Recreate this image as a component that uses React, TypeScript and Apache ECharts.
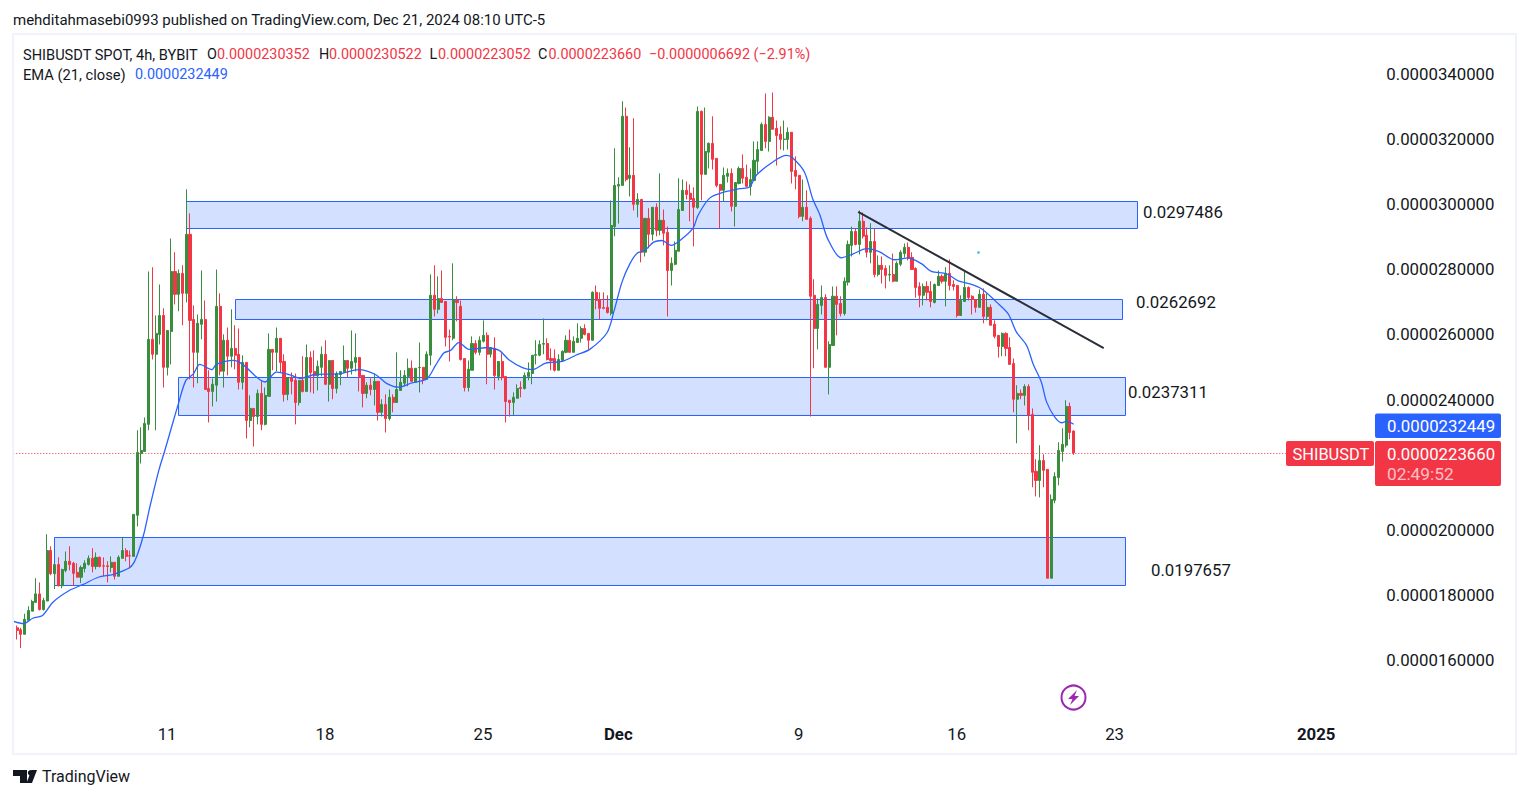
import React, { useEffect, useRef } from "react";
import * as echarts from "echarts";

// Prices are in millionths (1e-6 USDT)
const opens = [
16.82,17.00,16.94,16.80,17.23,17.51,17.78,18.04,17.56,17.82,
19.37,18.66,18.94,18.29,18.76,19.04,18.98,18.70,18.55,18.82,
18.94,19.13,18.88,19.16,18.90,18.90,18.85,19.01,18.58,19.13,
19.37,19.21,19.19,20.45,22.35,22.41,23.24,25.85,25.39,26.00,
26.58,24.99,26.09,27.93,27.23,27.87,27.26,29.07,26.46,25.45,
26.31,26.46,24.34,24.25,24.44,26.86,24.87,25.82,25.33,25.57,
25.39,24.53,25.14,23.36,23.73,23.48,24.19,23.24,24.10,25.54,
25.45,25.88,25.17,24.16,24.67,24.59,23.91,24.59,24.25,25.29,
24.86,24.73,24.99,25.39,24.47,25.20,24.34,24.77,24.83,25.20,
24.96,25.14,25.29,24.74,24.19,24.44,24.31,24.56,23.61,23.85,
23.42,24.07,23.91,24.28,24.50,24.71,24.96,24.53,24.98,24.99,
24.62,25.36,27.20,26.77,27.10,27.01,25.94,25.88,27.04,26.86,
25.26,24.37,24.90,25.72,25.45,25.79,25.97,25.39,25.57,24.71,
25.17,24.71,23.98,23.91,24.04,24.37,24.34,24.71,24.80,25.36,
25.36,25.70,25.72,25.26,25.26,24.90,25.20,25.45,25.82,25.45,
25.75,25.88,26.18,26.03,25.82,27.29,27.07,26.82,26.83,26.64,
29.31,30.55,30.57,32.69,30.79,30.88,29.99,30.14,28.52,29.56,
29.07,29.90,29.19,29.50,29.13,27.96,28.15,28.55,29.80,30.42,
30.33,30.17,29.89,32.84,30.91,31.59,31.86,31.40,30.60,30.42,
30.85,30.94,29.93,30.63,31.09,30.82,30.54,30.72,31.31,31.64,
32.44,31.92,32.66,32.32,32.14,31.98,31.98,32.20,31.03,30.88,
29.62,29.90,29.56,27.20,26.18,26.89,27.13,24.99,25.66,27.17,
26.95,26.64,27.60,28.73,29.16,28.76,29.47,29.04,28.52,28.85,
27.84,28.12,28.02,27.82,27.84,27.63,28.15,28.48,28.67,28.36,
28.02,27.47,27.20,27.47,27.32,26.98,27.50,27.78,27.63,27.87,
27.53,27.50,26.58,27.01,27.44,27.17,27.07,26.83,27.23,26.55,
26.83,26.31,25.97,25.63,26.03,25.60,25.11,24.01,24.19,24.13,
24.40,23.55,21.80,21.52,22.13,21.86,18.52,20.91,21.61,22.41,
22.60,23.79,23.0352];

const closes = [
17.23,16.92,16.80,17.26,17.53,17.81,18.04,17.56,17.84,19.37,
18.66,18.94,18.29,18.79,19.04,18.94,18.67,18.55,18.85,18.98,
19.13,18.88,19.16,18.88,18.89,18.88,19.01,18.58,19.16,19.37,
19.19,19.20,20.48,22.38,22.44,23.27,25.85,25.39,26.03,26.58,
24.99,26.12,27.93,27.23,27.87,27.26,29.07,26.43,25.45,26.34,
26.46,24.31,24.25,24.47,26.86,24.87,25.82,25.33,25.57,25.36,
24.53,25.14,23.36,23.73,23.48,24.19,23.24,24.13,25.54,25.45,
25.88,25.14,24.16,24.67,24.56,23.91,24.59,24.25,25.29,24.83,
24.73,25.02,25.39,24.47,25.20,24.34,24.80,24.86,25.20,24.96,
25.17,25.29,24.71,24.19,24.44,24.31,24.56,23.61,23.85,23.42,
24.07,23.91,24.31,24.53,24.74,24.96,24.56,24.96,24.99,24.62,
25.39,27.20,26.77,27.10,26.98,25.91,25.92,27.07,26.98,25.23,
24.37,24.93,25.72,25.45,25.82,25.97,25.39,25.60,24.74,25.17,
24.68,23.94,23.91,24.07,24.34,24.34,24.74,24.83,25.36,25.38,
25.69,25.72,25.23,25.20,24.90,25.23,25.48,25.82,25.45,25.79,
25.88,26.18,26.00,25.82,27.29,27.04,26.80,26.80,26.67,29.34,
30.57,30.60,32.69,30.75,30.88,29.99,30.14,28.52,29.56,29.07,
29.90,29.19,29.50,29.10,27.96,28.18,28.58,29.83,30.42,30.29,
30.14,29.90,32.84,30.91,31.61,31.86,31.37,30.57,30.42,30.88,
30.94,29.93,30.66,31.09,30.79,30.54,30.75,31.34,31.67,32.44,
31.92,32.66,32.29,32.10,31.98,31.99,32.20,31.00,30.85,29.62,
29.90,29.53,27.17,26.18,26.92,27.13,24.99,25.69,27.17,26.92,
26.64,27.63,28.76,29.16,28.76,29.47,29.01,28.52,28.85,27.84,
28.12,27.99,27.81,27.84,27.63,28.18,28.52,28.67,28.33,27.99,
27.44,27.20,27.47,27.29,27.01,27.53,27.78,27.63,27.87,27.50,
27.47,26.58,27.04,27.44,27.13,27.07,26.83,27.23,26.55,26.83,
26.28,25.94,25.63,26.03,25.57,25.08,24.01,24.19,24.13,24.40,
23.52,21.77,21.52,22.13,21.83,18.52,20.94,21.64,22.44,22.63,
23.79,22.99,22.366];

const highs = [
17.23,17.07,17.00,17.43,17.66,17.86,18.52,18.39,17.92,19.87,
19.50,18.94,19.16,18.81,19.34,19.50,19.02,18.98,18.91,19.07,
19.22,19.44,19.31,19.19,19.16,19.04,19.19,19.01,19.22,19.76,
19.44,19.37,20.48,23.06,23.15,23.45,27.93,28.06,26.58,27.53,
26.80,26.12,28.94,28.52,27.99,28.12,30.45,29.71,26.89,26.61,
27.96,27.04,24.90,24.65,27.99,27.26,26.00,26.21,26.77,26.28,
26.18,25.36,25.14,24.13,23.73,24.31,24.56,24.37,26.03,25.54,
26.21,25.88,25.39,24.67,24.83,24.80,24.59,25.33,25.69,25.48,
25.51,25.20,25.63,25.82,25.20,25.20,24.86,24.86,25.66,25.20,
26.12,26.03,25.29,24.74,24.53,24.65,24.80,24.56,24.01,24.16,
24.31,24.16,25.45,24.90,24.90,25.26,25.20,24.96,25.75,24.99,
25.48,27.84,28.12,27.78,27.96,27.01,26.15,28.18,27.17,27.04,
25.26,25.20,25.94,25.82,25.94,26.43,26.06,25.60,25.91,25.17,
25.42,24.71,23.98,24.22,24.47,24.56,24.83,25.14,25.36,25.82,
25.82,26.49,25.88,25.57,25.54,25.39,25.51,25.97,26.15,25.94,
26.34,26.25,26.31,26.03,27.32,27.50,27.29,27.29,27.20,30.11,
31.71,30.82,33.15,32.96,31.74,32.63,30.33,30.14,29.56,29.87,
29.90,30.02,30.94,29.83,29.31,28.36,28.85,30.79,30.75,30.69,
30.60,30.51,32.99,32.87,32.96,31.89,32.69,31.40,30.60,31.12,
31.09,31.09,30.66,31.15,31.52,31.21,31.09,31.92,31.92,32.50,
33.39,32.69,33.42,32.56,32.38,32.56,32.35,32.20,31.46,30.88,
30.75,30.42,29.62,27.69,27.10,27.50,27.23,25.79,27.47,27.47,
27.17,27.75,28.88,29.31,29.25,29.80,29.74,29.28,29.41,29.25,
28.42,28.39,28.12,28.12,28.48,28.24,28.58,28.79,28.82,28.52,
28.06,27.60,27.56,27.63,27.63,27.56,27.96,27.84,28.06,28.30,
27.66,27.50,27.20,27.96,27.47,27.20,27.07,27.38,27.41,27.26,
26.92,26.43,25.97,26.06,26.06,25.91,25.26,24.44,24.31,24.47,
24.47,23.73,22.17,22.60,22.32,21.86,21.09,21.77,22.69,23.12,
23.98,23.91,23.0522];

const lows = [
16.82,16.64,16.38,16.80,17.23,17.51,17.76,17.53,17.53,17.82,
18.61,18.19,18.27,18.21,18.70,18.76,18.29,18.55,18.37,18.70,
18.91,18.70,18.79,18.85,18.58,18.39,18.70,18.48,18.58,19.13,
19.04,18.82,19.19,20.11,22.04,22.41,23.06,25.23,23.06,25.69,
24.37,24.74,25.08,26.92,26.71,26.28,26.98,24.62,24.37,24.50,
25.85,24.31,23.30,23.79,23.94,24.74,24.37,24.74,24.99,24.93,
24.31,24.31,22.81,23.15,22.56,23.24,23.06,23.21,24.10,24.90,
24.87,24.83,23.94,23.98,24.16,23.24,23.82,24.22,24.25,24.22,
24.18,24.28,24.71,24.44,23.94,24.01,24.19,24.44,24.83,24.68,
24.77,24.86,24.25,23.76,24.04,24.13,23.82,23.36,23.48,22.99,
23.36,23.61,23.91,24.28,24.41,24.41,24.56,24.53,24.22,24.47,
24.62,25.05,26.55,26.64,26.98,25.63,25.17,25.82,26.40,25.20,
24.25,24.25,24.90,25.39,25.36,25.75,24.47,25.29,24.31,24.59,
24.59,23.30,23.48,23.52,24.04,24.07,24.31,24.59,24.47,25.08,
25.33,25.39,25.20,24.90,24.86,24.90,25.17,25.42,25.45,25.45,
25.75,25.75,25.97,25.54,25.82,26.77,26.46,26.77,26.64,26.58,
29.01,29.40,30.57,30.69,30.23,29.80,29.59,28.21,28.39,28.64,
28.88,29.01,29.04,28.73,26.55,27.50,28.12,28.55,29.80,30.14,
29.47,28.70,29.85,30.11,30.91,31.09,31.06,30.51,29.25,30.08,
30.66,29.77,29.31,30.60,30.63,30.54,30.26,30.72,30.94,31.64,
31.71,31.61,32.29,31.18,31.67,31.64,31.67,30.63,30.45,29.56,
29.47,29.53,23.48,24.96,25.54,26.61,24.99,24.16,25.66,25.97,
26.55,26.58,27.50,28.39,28.73,28.45,28.94,28.36,28.18,27.75,
27.78,27.56,27.41,27.63,27.60,27.63,28.09,28.36,28.27,27.99,
27.13,26.83,26.89,27.04,26.83,26.95,27.50,27.56,26.86,27.35,
27.35,26.52,26.58,27.01,27.04,26.61,26.67,26.83,26.34,26.43,
26.28,25.88,25.29,25.33,25.33,25.08,23.61,22.66,24.01,23.82,
23.06,21.31,21.03,21.00,21.31,18.52,18.52,20.82,21.37,22.10,
22.53,22.78,22.3052];

const emaBars = [1,3.7,6.3,8.8,11.6,16,19.6,23.6,27.6,31.9,33.4,35.6,37.3,39.7,41.3,43.1,44.9,46.9,48.9,50.6,53.8,55,59.5,62,65.7,67.9,71,74.6,77.3,81.3,87.5,92.9,97.3,100.4,103.5,107,111,113.3,115.5,117.3,119.5,122.2,126.6,130.2,132.8,136.4,139,142.6,147,150.6,154.3,158.9,160.7,162.9,165,166.9,169,171.3,173.5,176,178.3,181.8,183.1,186.2,190.2,194.2,196.8,198.6,203,206.6,208.3,211.4,213.6,215.5,217.6,221.2,224.4,227.9,231.4,235.4,239,242.5,245.2,249.2,252.3,255.4,258.5,262.5,265.6,267.8,270.5,272.2,274.4,275.8,278,279.8,281.1,283];
const emaValues = [17.20,17.13,17.30,17.38,17.79,18.15,18.33,18.55,18.64,18.84,19.07,19.83,20.70,21.83,22.44,23.16,23.87,24.59,24.79,25.08,24.92,25.08,25.20,25.08,24.69,24.54,24.84,24.76,24.65,24.77,24.79,24.92,24.77,24.49,24.38,24.51,24.64,25.05,25.43,25.51,25.75,25.54,25.59,25.51,25.22,24.98,24.92,25.12,25.17,25.36,25.54,26.05,26.69,27.61,28.17,28.49,28.58,28.83,28.88,28.73,28.88,29.26,29.65,30.18,30.37,30.47,30.52,30.88,31.29,31.49,31.41,30.98,30.16,29.67,28.93,28.35,28.47,28.63,28.53,28.29,28.35,28.17,27.93,27.86,27.64,27.55,27.40,26.99,26.63,26.07,25.66,25.10,24.54,23.93,23.46,23.29,23.33,23.2449];

const trendBars = [225.7, 291];
const trendValues = [29.76, 25.58];
const priceLineBars = [1, 339.5];
const priceLineLevel = 22.346;

const bandStarts = [47.064, 60.096, 44.936, 11.957];
const bandEnds = [299.99, 296.0, 296.8, 296.8];
const bandTops = [30.0767, 27.0706, 24.6779, 19.7699];
const bandBottoms = [29.2485, 26.4571, 23.5123, 18.2975];
const bandLabels = ["0.0297486", "0.0262692", "0.0237311", "0.0197657"];
const bandLabelX = [1143, 1136, 1128, 1151];
const bandLabelY = [212, 302, 392, 570];

const priceTicks = [16, 18, 20, 24, 26, 28, 30, 32, 34];
const timeTickBars = [41.9, 83.9, 125.9, 161.9, 209.9, 251.9, 293.9, 347.5];
const timeTickLabels = ["11", "18", "25", "Dec", "9", "16", "23", "2025"];
const boldTimeLabels = ["Dec", "2025"];

const UP = "#388E3C";
const DOWN = "#F23645";
const BLUE = "#2962FF";
const INK = "#131722";
const FONT = "Roboto, sans-serif";

function label(text: string, x: number, y: number, size: number, fill: string, extra: any = {}) {
  return {
    type: "text",
    x,
    y,
    silent: true,
    z: 20,
    style: { text, fill, font: `${extra.weight || "normal"} ${size}px ${FONT}`, textVerticalAlign: "middle", textAlign: extra.align || "left", opacity: extra.opacity ?? 1 },
  };
}

export default function App() {
  const ref = useRef<HTMLDivElement>(null);
  useEffect(() => {
    document.body.style.margin = "0";
    document.body.style.overflow = "hidden";
    document.body.style.background = "#fff";
    const chart = echarts.init(ref.current!, null, { renderer: "svg" });
    const candles = opens.map((o, i) => [i + 1, o, closes[i], lows[i], highs[i]]);
    const option: any = {
      animation: false,
      backgroundColor: "#ffffff",
      grid: { left: 14.8, top: 35, width: 1360.5, height: 687, containLabel: false },
      xAxis: {
        type: "value",
        min: 1.3989,
        max: 363.23,
        axisLine: { show: false },
        axisTick: { show: false },
        splitLine: { show: false },
        axisLabel: {
          customValues: timeTickBars,
          margin: 3,
          hideOverlap: false,
          color: INK,
          fontFamily: FONT,
          fontSize: 16.8,
          formatter: (v: number) => {
            const t = timeTickLabels[timeTickBars.indexOf(v)] ?? "";
            return boldTimeLabels.includes(t) ? `{b|${t}}` : t;
          },
          rich: { b: { fontWeight: "bold", fontSize: 16.8, fontFamily: FONT, color: INK } },
        },
      },
      yAxis: {
        type: "value",
        position: "right",
        min: 14.11,
        max: 35.184,
        axisLine: { show: false },
        axisTick: { show: false },
        splitLine: { show: false },
        axisLabel: {
          customValues: priceTicks,
          margin: 11,
          color: INK,
          fontFamily: FONT,
          fontSize: 16.8,
          formatter: (v: number) => (v * 1e-6).toFixed(10),
        },
      },
      series: [
        {
          type: "line",
          name: "levels",
          z: 1,
          symbol: "none",
          silent: true,
          data: priceLineBars.map((b) => [b, priceLineLevel]),
          lineStyle: { color: DOWN, width: 1, type: [1, 2] },
          markArea: {
            silent: true,
            label: { show: false },
            itemStyle: { color: "rgba(41,98,255,0.2)", borderColor: BLUE, borderWidth: 1 },
            data: bandStarts.map((s, i) => [
              { xAxis: s, yAxis: bandTops[i] },
              { xAxis: bandEnds[i], yAxis: bandBottoms[i] },
            ]),
          },
        },
        {
          type: "candlestick",
          name: "SHIBUSDT",
          z: 3,
          barWidth: 2.6,
          silent: true,
          large: false,
          progressive: 0,
          encode: { x: 0, y: [1, 2, 3, 4] },
          data: candles,
          itemStyle: { color: UP, color0: DOWN, borderColor: UP, borderColor0: DOWN, borderWidth: 1 },
        },
        {
          type: "line",
          name: "EMA (21, close)",
          z: 4,
          symbol: "none",
          silent: true,
          smooth: 0.3,
          data: emaBars.map((b, i) => [b, emaValues[i]]),
          lineStyle: { color: BLUE, width: 1.3 },
        },
        {
          type: "line",
          name: "trend",
          z: 5,
          symbol: "none",
          silent: true,
          data: trendBars.map((b, i) => [b, trendValues[i]]),
          lineStyle: { color: "#2a2e39", width: 2 },
        },
      ],
      graphic: [
        { type: "rect", silent: true, z: 0, shape: { x: 13, y: 34, width: 1503, height: 720 }, style: { fill: "none", stroke: "#F0F3FA", lineWidth: 2 } },
        label("mehditahmasebi0993 published on TradingView.com, Dec 21, 2024 08:10 UTC-5", 13, 19.5, 15, INK),
        label("SHIBUSDT SPOT, 4h, BYBIT", 23, 54.5, 14.6, INK),
        label("O", 207, 54.5, 14.4, INK),
        label("0.0000230352", 217, 54.5, 14.4, DOWN),
        label("H", 319, 54.5, 14.4, INK),
        label("0.0000230522", 329, 54.5, 14.4, DOWN),
        label("L", 429.5, 54.5, 14.4, INK),
        label("0.0000223052", 438, 54.5, 14.4, DOWN),
        label("C", 538, 54.5, 14.4, INK),
        label("0.0000223660", 548.5, 54.5, 14.4, DOWN),
        label("\u22120.0000006692 (\u22122.91%)", 649, 54.5, 14.4, DOWN),
        label("EMA (21, close)", 23, 74.5, 14.7, INK),
        label("0.0000232449", 135, 74.5, 14.4, BLUE),
        ...bandLabels.map((t, i) => label(t, bandLabelX[i], bandLabelY[i], 16.8, INK)),
        { type: "circle", silent: true, z: 10, shape: { cx: 978.5, cy: 252.5, r: 1.3 }, style: { fill: "#26C6DA" } },
        { type: "rect", silent: true, z: 15, shape: { x: 1375, y: 413.5, width: 126, height: 24.5, r: 2 }, style: { fill: BLUE } },
        label("0.0000232449", 1387, 426, 16.8, "#ffffff"),
        { type: "rect", silent: true, z: 15, shape: { x: 1375, y: 441, width: 126, height: 45, r: 2 }, style: { fill: DOWN } },
        label("0.0000223660", 1387, 454, 16.8, "#ffffff"),
        label("02:49:52", 1387, 474, 17.3, "#ffffff", { opacity: 0.7 }),
        { type: "rect", silent: true, z: 15, shape: { x: 1286, y: 441, width: 88, height: 25, r: 2 }, style: { fill: DOWN } },
        label("SHIBUSDT", 1292.5, 454, 16.4, "#ffffff"),
        { type: "circle", silent: true, z: 10, shape: { cx: 1073.5, cy: 697.5, r: 12 }, style: { fill: "#fff", stroke: "#9C27B0", lineWidth: 2 } },
        { type: "polygon", silent: true, z: 11, shape: { points: [[1077, 690], [1068, 699], [1072.5, 699], [1070, 705], [1079, 696], [1074.5, 696]] }, style: { fill: "#9C27B0" } },
        { type: "polygon", silent: true, z: 10, shape: { points: [[13, 770], [27, 770], [27, 783], [20, 783], [20, 776], [13, 776]] }, style: { fill: INK } },
        { type: "circle", silent: true, z: 10, shape: { cx: 30.5, cy: 772.8, r: 2.7 }, style: { fill: INK } },
        { type: "polygon", silent: true, z: 10, shape: { points: [[32, 783], [37, 770], [31.5, 770], [26.5, 783]] }, style: { fill: INK } },
        label("TradingView", 42, 776.5, 16, INK),
      ],
    };
    chart.setOption(option);
    return () => chart.dispose();
  }, []);
  return <div ref={ref} style={{ width: 1529, height: 798, position: "absolute", left: 0, top: 0 }} />;
}
